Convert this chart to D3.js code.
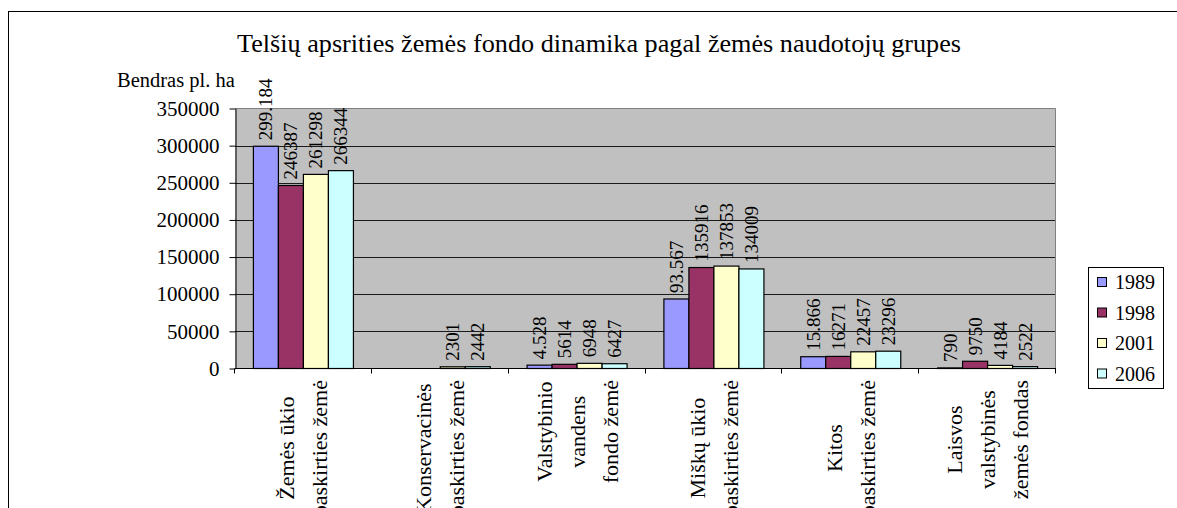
<!DOCTYPE html>
<html>
<head>
<meta charset="utf-8">
<script src="https://cdn.jsdelivr.net/npm/d3@7"></script>
<style>
  html, body { margin: 0; padding: 0; background: #fff; }
  svg { display: block; }
  svg text { font-family: "Liberation Serif", "Times New Roman", serif !important; fill: #000; }
</style>
</head>
<body>
<svg id="chart" width="1177" height="508" font-family="Liberation Serif"></svg>
<script>
// ---- data ----
const title = "Telšių apsrities žemės fondo dinamika pagal žemės naudotojų grupes";
const yAxisTitle = "Bendras pl. ha";
const categories = ["Žemės ūkio paskirties žemė", "Konservacinės paskirties žemė", "Valstybinio vandens fondo žemė", "Miškų ūkio paskirties žemė", "Kitos paskirties žemė", "Laisvos valstybinės žemės fondas"];
const categoryLines = [
  ["Žemės ūkio", "paskirties žemė"],
  ["Konservacinės", "paskirties žemė"],
  ["Valstybinio", "vandens", "fondo žemė"],
  ["Miškų ūkio", "paskirties žemė"],
  ["Kitos", "paskirties žemė"],
  ["Laisvos", "valstybinės", "žemės fondas"]
];
const years = ["1989", "1998", "2001", "2006"];
const values1989 = [299184, null, 4528, 93567, 15866, 790];
const values1998 = [246387, null, 5614, 135916, 16271, 9750];
const values2001 = [261298, 2301, 6948, 137853, 22457, 4184];
const values2006 = [266344, 2442, 6427, 134009, 23296, 2522];
const yTicks = [0, 50000, 100000, 150000, 200000, 250000, 300000, 350000];
const colors = ["#9999ff", "#993366", "#ffffcc", "#ccffff"];

const seriesValues = [values1989, values1998, values2001, values2006];
// the 1989 labels use a dot as the thousands separator in the original
const dotLocale = d3.formatLocale({ decimal: ",", thousands: ".", grouping: [3], currency: ["", ""] });
const labelFormats = [dotLocale.format(","), d3.format("d"), d3.format("d"), d3.format("d")];

const FONT = "'Liberation Serif', 'Times New Roman', serif";

// ---- layout ----
const svg = d3.select("#chart");
const plot = { left: 235, right: 1056, top: 108.5, bottom: 368.5 };

svg.append("rect").attr("x", 8.5).attr("y", 11.5).attr("width", 1200).attr("height", 600)
  .attr("fill", "#fff").attr("stroke", "#000").attr("stroke-width", 1);

const x0 = d3.scaleBand().domain(categories).range([plot.left, plot.right]).padding(0);
const groupPad = x0.bandwidth() * 0.1345;
const x1 = d3.scaleBand().domain(years).range([groupPad, x0.bandwidth() - groupPad]).padding(0);
const y = d3.scaleLinear().domain([0, 350000]).range([plot.bottom, plot.top]);

// plot background
svg.append("rect").attr("x", plot.left).attr("y", plot.top)
  .attr("width", plot.right - plot.left).attr("height", plot.bottom - plot.top)
  .attr("fill", "#c0c0c0");

// gridlines
svg.append("g").selectAll("line").data(yTicks.filter(t => t > 0 && t < 350000)).join("line")
  .attr("x1", plot.left).attr("x2", plot.right)
  .attr("y1", d => Math.round(y(d)) + 0.5).attr("y2", d => Math.round(y(d)) + 0.5)
  .attr("stroke", "#1a1a1a").attr("stroke-width", 1);

// plot border top & right
svg.append("path")
  .attr("d", `M${plot.left},${plot.top}H${plot.right - 0.5}V${plot.bottom}`)
  .attr("fill", "none").attr("stroke", "#808080").attr("stroke-width", 1);

// bars
const barData = [];
categories.forEach((c, ci) => {
  years.forEach((yr, si) => {
    const v = seriesValues[si][ci];
    if (v !== null) barData.push({ c, ci, yr, si, v });
  });
});

svg.append("g").selectAll("rect").data(barData).join("rect")
  .attr("x", d => x0(d.c) + x1(d.yr))
  .attr("y", d => y(d.v))
  .attr("width", x1.bandwidth())
  .attr("height", d => Math.max(0, y(0) - y(d.v)))
  .attr("fill", d => colors[d.si])
  .attr("stroke", "#000").attr("stroke-width", 1.2);

// value labels
svg.append("g").selectAll("text").data(barData).join("text")
  .attr("transform", d => `translate(${x0(d.c) + x1(d.yr) + x1.bandwidth() / 2},${y(d.v) - 6}) rotate(-90)`)
  .attr("text-anchor", "start")
  .attr("dominant-baseline", "central")
  .attr("font-family", FONT)
  .style("font-size", "19px")
  .text(d => labelFormats[d.si](d.v));

// y axis
const yAxis = d3.axisLeft(y).tickValues(yTicks).tickSize(6).tickSizeOuter(0).tickPadding(10).tickFormat(d3.format("d"));
const gy = svg.append("g").attr("transform", `translate(${plot.left + 0.5},0)`).call(yAxis);
gy.attr("font-family", FONT).attr("font-size", null);
gy.select(".domain").attr("stroke", "#000");
gy.selectAll(".tick line").attr("stroke", "#000");
gy.selectAll(".tick text").attr("font-family", FONT).style("font-size", "21px").attr("fill", "#000");

// x axis line and category ticks
svg.append("line").attr("x1", plot.left).attr("x2", plot.right)
  .attr("y1", plot.bottom).attr("y2", plot.bottom).attr("stroke", "#000");
const bounds = categories.map(c => x0(c)).concat([plot.right]);
svg.append("g").selectAll("line").data(bounds).join("line")
  .attr("x1", d => Math.round(d) - 0.5).attr("x2", d => Math.round(d) - 0.5)
  .attr("y1", plot.bottom).attr("y2", plot.bottom + 5)
  .attr("stroke", "#000");

// category labels (rotated, multi-line, centered)
const lineGap = 33;
const catG = svg.append("g");
categoryLines.forEach((lines, ci) => {
  const cx = x0(categories[ci]) + x0.bandwidth() / 2;
  const texts = lines.map((ln) => catG.append("text")
    .attr("text-anchor", "middle")
    .attr("dominant-baseline", "central")
    .attr("font-family", FONT)
    .style("font-size", "22px")
    .text(ln));
  const maxLen = d3.max(texts, t => t.node().getComputedTextLength());
  const cy = 380 + maxLen / 2;
  texts.forEach((t, li) => {
    const lx = cx + (li - (lines.length - 1) / 2) * lineGap;
    t.attr("transform", `translate(${lx},${cy}) rotate(-90)`);
  });
});

// title
svg.append("text").attr("x", 599).attr("y", 52).attr("text-anchor", "middle")
  .attr("font-family", FONT).style("font-size", "26.2px").text(title);

// y axis title
svg.append("text").attr("x", 117).attr("y", 87).attr("text-anchor", "start")
  .attr("font-family", FONT).style("font-size", "20.5px").text(yAxisTitle);

// legend
const legend = svg.append("g");
legend.append("rect").attr("x", 1088.5).attr("y", 267.5).attr("width", 75).attr("height", 121)
  .attr("fill", "#fff").attr("stroke", "#000");
const rowY = d3.scalePoint().domain(years).range([282, 373.5]);
years.forEach((yr, i) => {
  legend.append("rect").attr("x", 1097.5).attr("y", rowY(yr) - 4.5).attr("width", 9).attr("height", 9)
    .attr("fill", colors[i]).attr("stroke", "#000");
  legend.append("text").attr("x", 1115).attr("y", rowY(yr)).attr("dominant-baseline", "central")
    .attr("font-family", FONT).style("font-size", "20px").text(yr);
});
</script>
</body>
</html>
